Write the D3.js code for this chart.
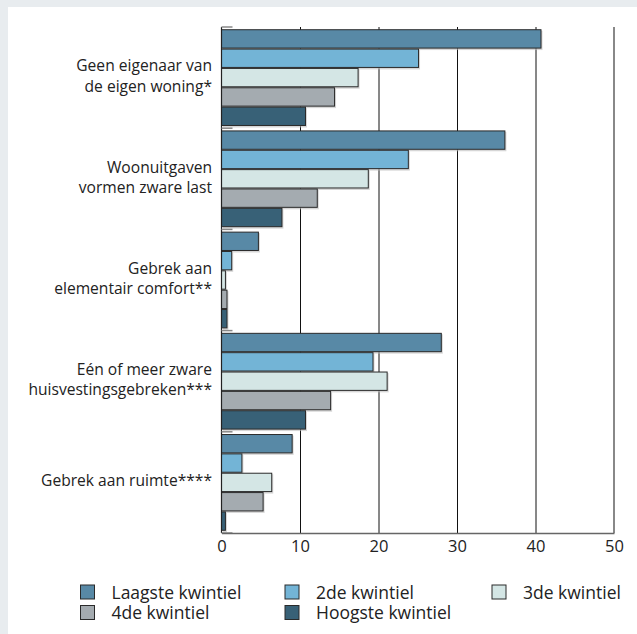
<!DOCTYPE html>
<html><head><meta charset="utf-8">
<script src="https://cdn.jsdelivr.net/npm/d3@7"></script>
<style>
html,body{margin:0;padding:0;background:#e8ecef;}
svg{display:block;}
text{font-family:"Open Sans","Noto Sans",sans-serif;fill:#222;}
</style></head>
<body>
<svg id="chart" width="637" height="634"></svg>
<script>
const categories = [
  ["Geen eigenaar van","de eigen woning*"],
  ["Woonuitgaven","vormen zware last"],
  ["Gebrek aan","elementair comfort**"],
  ["Eén of meer zware","huisvestingsgebreken***"],
  ["Gebrek aan ruimte****"]
];
const seriesNames = ["Laagste kwintiel","2de kwintiel","3de kwintiel","4de kwintiel","Hoogste kwintiel"];
const seriesColors = ["#5889a6","#73b4d6","#d4e6e5","#a4abb0","#386177"];
const laagste  = [40.7, 36.1, 4.7, 28.0, 9.0];
const tweede   = [25.1, 23.8, 1.3, 19.3, 2.6];
const derde    = [17.4, 18.7, 0.5, 21.1, 6.4];
const vierde   = [14.4, 12.2, 0.7, 13.9, 5.3];
const hoogste  = [10.7, 7.7, 0.7, 10.7, 0.5];
const seriesValues = [laagste, tweede, derde, vierde, hoogste];
const xTicks = [0,10,20,30,40,50];

(function(){
const svg = d3.select("#chart");
svg.append("rect").attr("x",8).attr("y",7).attr("width",629).attr("height",627).attr("fill","#fff");

const pl = 221.5, pr = 614, pt = 27, pb = 533;
const x = d3.scaleLinear().domain([0,50]).range([pl,pr]);
const y = d3.scaleBand().domain(d3.range(categories.length)).range([pt,pb]).paddingInner(0).paddingOuter(0);
const inner = d3.scaleBand().domain(d3.range(seriesNames.length)).range([0,y.bandwidth()]).paddingInner(0).paddingOuter(0.115);

const g = svg.append("g");

// gridlines
g.selectAll("line.grid").data(xTicks.filter(t=>t>0 && t<50)).join("line")
  .attr("x1",d=>x(d)+0.5).attr("x2",d=>x(d)+0.5).attr("y1",pt).attr("y2",pb)
  .attr("stroke","#111").attr("stroke-width",1);

// right border
g.append("line").attr("x1",x(50)).attr("x2",x(50)).attr("y1",pt).attr("y2",pb)
  .attr("stroke","#888").attr("stroke-width",2);

// bars
categories.forEach((c,i)=>{
  seriesValues.forEach((vals,s)=>{
    const y0 = y(i)+inner(s);
    g.append("rect")
      .attr("x",x(0)+1.5).attr("y",y0+1.5)
      .attr("width",Math.max(0,x(vals[i])-x(0))).attr("height",inner.bandwidth())
      .attr("fill","#bbb").attr("opacity",0.6);
    g.append("rect")
      .attr("x",x(0)).attr("y",y0+0.5)
      .attr("width",x(vals[i])-x(0)).attr("height",inner.bandwidth()-1)
      .attr("fill",seriesColors[s]).attr("stroke","#2a2a2a").attr("stroke-width",1);
  });
});

// left axis and band ticks
g.append("line").attr("x1",pl).attr("x2",pl).attr("y1",pt).attr("y2",pb).attr("stroke","#222").attr("stroke-width",1.2);
g.selectAll("line.bt").data(d3.range(categories.length+1)).join("line")
  .attr("x1",pl).attr("x2",pl+11)
  .attr("y1",d=>pt + d*y.step()).attr("y2",d=>pt + d*y.step())
  .attr("stroke","#888").attr("stroke-width",1.5);

// bottom axis
const xAxis = d3.axisBottom(x).tickValues(xTicks).tickSize(0).tickPadding(7);
const ax = svg.append("g").attr("transform",`translate(0,${pb})`).call(xAxis);
ax.select(".domain").attr("stroke","#666").attr("stroke-width",1.5);
ax.selectAll("text").attr("font-size","16.5px").attr("fill","#222").style("font-family",'"Open Sans","Noto Sans",sans-serif');

// category labels
categories.forEach((lines,i)=>{
  const cy = y(i)+y.bandwidth()/2 - 1.5;
  const lh = 20.5;
  const t = svg.append("text").attr("text-anchor","end").attr("font-size","15.6px");
  lines.forEach((ln,k)=>{
    t.append("tspan").attr("x",212)
      .attr("y", cy + (k-(lines.length-1)/2)*lh)
      .attr("dy","0.35em").text(ln);
  });
});

// legend
const legX = [80, 284.5, 491.5];
const legRows = [592, 612.5];
seriesNames.forEach((n,i)=>{
  const col = i<3 ? i : i-3;
  const row = i<3 ? 0 : 1;
  const lx = legX[col], ly = legRows[row];
  svg.append("rect").attr("x",lx+0.5).attr("y",ly-7).attr("width",14).attr("height",14)
    .attr("fill",seriesColors[i]).attr("stroke","#2a2a2a").attr("stroke-width",1);
  svg.append("text").attr("x",lx+31.5).attr("y",ly+0.5).attr("dy","0.35em").attr("font-size","17.5px").text(n);
});
})();
</script>
</body></html>
